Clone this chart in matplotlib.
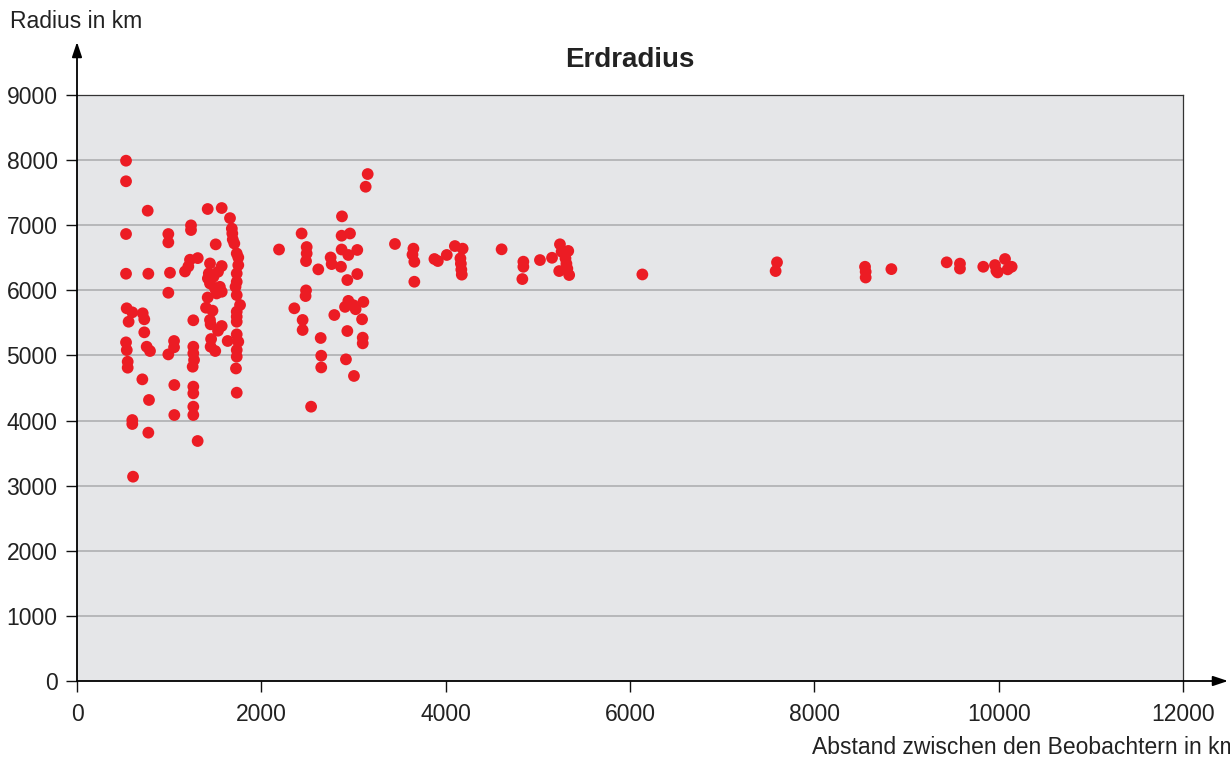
import matplotlib
matplotlib.use("Agg")
import matplotlib.pyplot as plt

plt.rcParams['font.family'] = ['Liberation Sans', 'DejaVu Sans']

# Data: distance between observers (km), computed earth radius (km)
abstand = [
    532, 532, 767, 532, 991, 991, 1237, 1237, 1418, 1570,
    532, 774, 1009, 991, 1505, 1226, 1310, 1208, 1172,
    539, 600, 560, 713, 730, 730, 532, 540, 756, 792,
    1053, 1053, 991, 1262, 1262, 1262, 1270, 1255, 550, 550,
    709, 781, 1056, 1262, 1262, 600, 600, 774, 1056, 1262, 1262,
    1309, 608,
    1660, 1680, 1685, 1690, 1707, 1733, 1750, 1750, 1733, 1733, 1720, 1733,
    1769, 1733, 1733, 1733, 1733, 1750, 1733, 1733, 1725, 1733,
    1443, 1570, 1430, 1480, 1530, 1420, 1443, 1497, 1550, 1570, 1515,
    1418, 1400, 1470, 1443, 1450, 1570, 1530, 1455, 1450, 1500, 1635,
    3154, 3132, 2875, 2437, 2871, 2962, 2192, 2492, 2492, 2485,
    2618, 2752, 2763, 2864, 2871, 2944, 3041, 2933, 3041, 3450,
    3650, 3640, 3660, 3660,
    2485, 2480, 2358, 2448, 2448, 2644, 2650, 2650, 2540, 2792,
    2944, 2908, 2998, 3023, 3107, 3093, 2933, 3100, 3100, 2918, 3005,
    3878, 3915, 4012, 4100, 4184, 4160, 4165, 4170, 4175,
    4607, 4843, 4843, 4832, 5023, 5154, 5240, 5258, 5330,
    5300, 5310, 5320, 5340, 5232, 6134,
    7595, 7580, 8550, 8557, 8557, 8836, 9436, 9580, 9580, 9833,
    9960, 9989, 10069, 10098, 10141, 9975,
]
radius = [
    7991, 7675, 7223, 6865, 6865, 6737, 6998, 6926, 7249, 7264,
    6255, 6255, 6270, 5963, 6706, 6470, 6495, 6367, 6290,
    5724, 5662, 5518, 5647, 5555, 5355, 5201, 5083, 5134, 5068,
    5222, 5125, 5016, 5540, 5134, 5032, 4930, 4827, 4904, 4812,
    4633, 4316, 4546, 4521, 4418, 4008, 3947, 3814, 4085, 4213, 4085,
    3686, 3138,
    7109, 6948, 6873, 6781, 6719, 6566, 6505, 6387, 6259, 6131, 6054, 5927,
    5775, 5672, 5595, 5518, 5324, 5211, 5083, 4981, 4800, 4428,
    6413, 6373, 6260, 6208, 6285, 6183, 6105, 6031, 6054, 5978, 5952,
    5890, 5733, 5688, 5545, 5478, 5452, 5380, 5252, 5134, 5068, 5222,
    7786, 7591, 7136, 6873, 6839, 6873, 6627, 6665, 6566, 6449,
    6322, 6505, 6403, 6362, 6627, 6543, 6620, 6158, 6250, 6712,
    6640, 6548, 6439, 6132,
    5999, 5912, 5724, 5545, 5391, 5268, 4996, 4816, 4213, 5621,
    5838, 5746, 5772, 5710, 5822, 5555, 5375, 5273, 5186, 4940, 4685,
    6481, 6450, 6543, 6680, 6640, 6491, 6410, 6318, 6241,
    6630, 6440, 6362, 6173, 6465, 6500, 6707, 6594, 6605,
    6491, 6410, 6334, 6235, 6296, 6244,
    6430, 6296, 6362, 6285, 6197, 6326, 6430, 6410, 6334, 6362,
    6388, 6275, 6481, 6322, 6362, 6300,
]

x_ticks = [0, 2000, 4000, 6000, 8000, 10000, 12000]
y_ticks = [0, 1000, 2000, 3000, 4000, 5000, 6000, 7000, 8000, 9000]

W, H = 1230, 758
fig = plt.figure(figsize=(W / 100, H / 100), dpi=100)
L, R, T, B = 77, 1183, 95, 681
ax = fig.add_axes([L / W, 1 - B / H, (R - L) / W, (B - T) / H])
ax.set_facecolor('#e5e6e8')
ax.set_xlim(0, 12000)
ax.set_ylim(0, 9000)

for yv in y_ticks[1:-1]:
    ax.axhline(yv, color='#aeafb1', lw=1.2, zorder=1)

ax.scatter(abstand, radius, s=72, color='#ec1c24', edgecolors='none', zorder=3)

ax.set_xticks(x_ticks)
ax.set_yticks(y_ticks)
ax.tick_params(axis='both', direction='out', length=8, width=1, colors='#111111',
               labelsize=16.5, labelcolor='#222222')
ax.tick_params(axis='x', pad=8)
ax.tick_params(axis='y', pad=6)

for side in ['top', 'right']:
    ax.spines[side].set_color('#333333')
    ax.spines[side].set_linewidth(0.9)
ax.spines['left'].set_visible(False)
ax.spines['bottom'].set_visible(False)

# axis lines with arrows
xend = (1228 - L) / (R - L)
yend = (B - 42) / (B - T)
ax.annotate('', xy=(xend, 0), xytext=(0, 0), xycoords='axes fraction',
            arrowprops=dict(arrowstyle='-|>,head_length=0.9,head_width=0.3',
                            color='black', lw=1.3, shrinkA=0, shrinkB=0),
            annotation_clip=False)
ax.annotate('', xy=(0, yend), xytext=(0, 0), xycoords='axes fraction',
            arrowprops=dict(arrowstyle='-|>,head_length=0.9,head_width=0.3',
                            color='black', lw=1.3, shrinkA=0, shrinkB=0),
            annotation_clip=False)

ax.set_title('Erdradius', fontsize=20, fontweight='bold', color='#222222', pad=20)

fig.text(10 / W, 1 - 22 / H, 'Radius in km', fontsize=16.5, color='#222222',
         ha='left', va='center')
fig.text(812 / W, 1 - 748 / H, 'Abstand zwischen den Beobachtern in km', fontsize=16.5,
         color='#222222', ha='left', va='center')

fig.savefig('out.png', dpi=100)
